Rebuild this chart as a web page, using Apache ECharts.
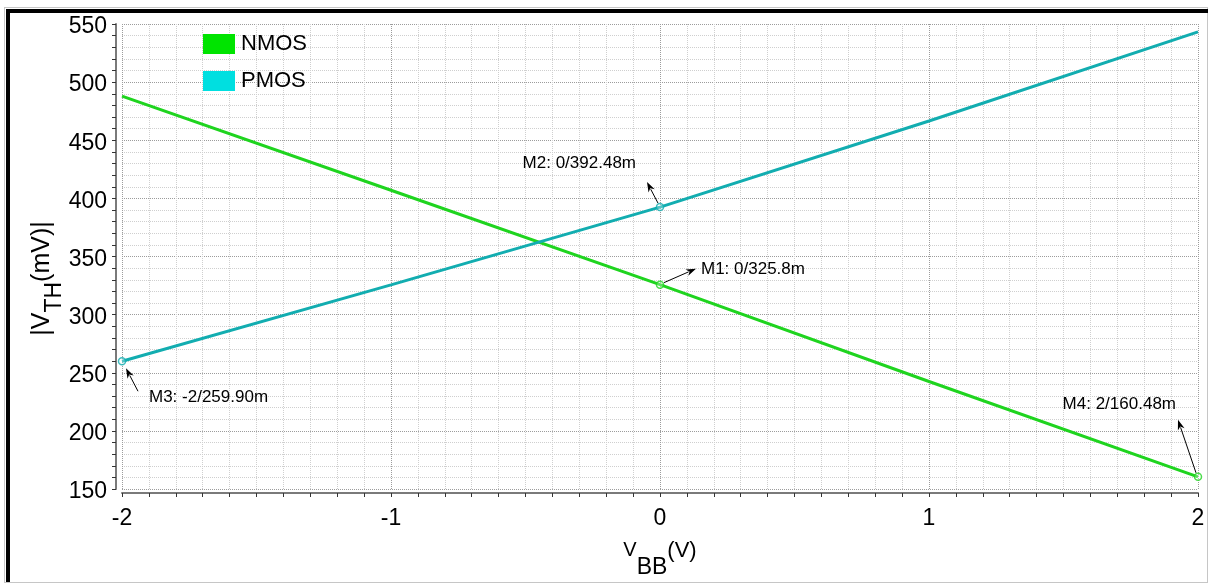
<!DOCTYPE html>
<html>
<head>
<meta charset="utf-8">
<script src="https://cdn.jsdelivr.net/npm/echarts@6/dist/echarts.min.js"></script>
<style>
  html, body { margin: 0; padding: 0; background: #fff; }
  #chart { position: absolute; left: 0; top: 0; width: 1212px; height: 584px; }
  .frame { position: absolute; left: 4px; top: 7px; width: 1202px; height: 574px; border: 1px solid #c6c6c6; pointer-events: none; }
  .bar-top { position: absolute; left: 6px; top: 9px; width: 1202px; height: 4px; background: #000; pointer-events: none; }
  .bar-left { position: absolute; left: 6px; top: 9px; width: 4px; height: 573px; background: #000; pointer-events: none; }
</style>
</head>
<body>
<div id="chart"></div>
<div class="frame"></div>
<div class="bar-top"></div>
<div class="bar-left"></div>
<script>
// Body bias sweep (V) and threshold voltage magnitude (mV)
const vbb  = [-2, -1, 0, 1, 2];
const nmos = [488.0, 407.0, 325.8, 242.5, 160.48];
const pmos = [259.90, 325.6, 392.48, 466.6, 543.2];

// Axis tick values
const xTicks = [-2, -1, 0, 1, 2];
const yTicks = [150, 200, 250, 300, 350, 400, 450, 500, 550];

// Cursor markers: name, series, index into vbb, decimals shown
const markerNames   = ['M1', 'M2', 'M3', 'M4'];
const markerSeries  = ['NMOS', 'PMOS', 'PMOS', 'NMOS'];
const markerIndex   = [2, 2, 0, 4];
const markerDigits  = [1, 2, 2, 2];

// Placement of each marker's arrow and caption, in pixels from the marker
const markerLayout = {
  M1: { tail: [4, -2],  head: [36, -16], text: [41, -15], align: 'left'  },
  M2: { tail: [-2, -4], head: [-13, -25], text: [-24, -44], align: 'right' },
  M3: { tail: [16, 30], head: [4, 7],    text: [27, 36],  align: 'left'  },
  M4: { tail: [-2, -4], head: [-20, -57], text: [-22, -73], align: 'right' }
};

const seriesData = { NMOS: nmos, PMOS: pmos };
const lineColor   = { NMOS: '#1fd41f', PMOS: '#12adb0' };
const legendColor = { NMOS: '#00e400', PMOS: '#00dfe0' };

const FONT = 'Liberation Sans, Arial, sans-serif';

const chart = echarts.init(document.getElementById('chart'), null, { renderer: 'canvas' });

const markerPoints = markerNames.map((n, k) => {
  const s = markerSeries[k];
  const i = markerIndex[k];
  return { name: n, series: s, x: vbb[i], y: seriesData[s][i], digits: markerDigits[k] };
});

function axisCommon() {
  return {
    axisLine: { show: true, onZero: false, lineStyle: { color: '#7a7a7a', width: 2 } },
    axisTick: { show: true, length: 4, lineStyle: { color: '#333', width: 1 } },
    splitLine: { show: true, lineStyle: { color: '#9c9c9c', type: 'dotted', width: 1 } },
    minorSplitLine: { show: true, lineStyle: { color: '#cfcfcf', type: 'dotted', width: 1 } }
  };
}

const option = {
  animation: false,
  backgroundColor: 'transparent',
  grid: { left: 122, right: 14, top: 24, bottom: 95, containLabel: false },
  legend: {
    left: 203, top: 33, padding: 0, orient: 'vertical', itemGap: 15,
    itemWidth: 32, itemHeight: 20, icon: 'rect',
    textStyle: { color: '#000', fontFamily: FONT, fontSize: 22, padding: [0, 0, 0, 1] },
    data: ['NMOS', 'PMOS'].map(n => ({ name: n, itemStyle: { color: legendColor[n] } }))
  },
  xAxis: Object.assign(axisCommon(), {
    type: 'value', min: xTicks[0], max: xTicks[xTicks.length - 1], interval: 1,
    offset: 4,
    minorTick: { show: true, splitNumber: 10, length: 4, lineStyle: { color: '#333', width: 1 } },
    axisLabel: { color: '#000', fontFamily: FONT, fontSize: 23, margin: 14 },
    name: '{a|V}{b|BB}{c|(V)}',
    nameLocation: 'middle', nameGap: 47,
    nameTextStyle: {
      fontFamily: FONT, color: '#000',
      rich: {
        a: { fontSize: 20, fontFamily: FONT, lineHeight: 39, verticalAlign: 'top' },
        b: { fontSize: 23, fontFamily: FONT, lineHeight: 39, verticalAlign: 'bottom' },
        c: { fontSize: 22, fontFamily: FONT, lineHeight: 39, verticalAlign: 'top' }
      }
    }
  }),
  yAxis: Object.assign(axisCommon(), {
    type: 'value', min: yTicks[0], max: yTicks[yTicks.length - 1], interval: 50,
    offset: 6,
    minorTick: { show: true, splitNumber: 5, length: 4, lineStyle: { color: '#333', width: 1 } },
    axisLabel: { color: '#000', fontFamily: FONT, fontSize: 23, margin: 9, verticalAlign: 'top', lineHeight: 6 },
    name: '{a||V}{b|TH}{a|(mV)|}',
    nameLocation: 'middle', nameGap: 50, nameMoveOverlap: false,
    nameTextStyle: {
      fontFamily: FONT, color: '#000', padding: [0, 44, 0, 0],
      rich: {
        a: { fontSize: 25, fontFamily: FONT, lineHeight: 36, verticalAlign: 'top' },
        b: { fontSize: 23, fontFamily: FONT, lineHeight: 36, verticalAlign: 'bottom' }
      }
    }
  }),
  series: [
    {
      name: 'NMOS', type: 'line', showSymbol: false, symbol: 'none',
      lineStyle: { color: lineColor.NMOS, width: 3 }, itemStyle: { color: lineColor.NMOS },
      data: vbb.map((x, i) => [x, nmos[i]]), z: 3
    },
    {
      name: 'PMOS', type: 'line', showSymbol: false, symbol: 'none',
      lineStyle: { color: lineColor.PMOS, width: 3 }, itemStyle: { color: lineColor.PMOS },
      data: vbb.map((x, i) => [x, pmos[i]]), z: 3
    },
    {
      name: 'markers', type: 'scatter', symbol: 'circle', symbolSize: 7, clip: false, z: 5,
      data: markerPoints.map(m => ({
        value: [m.x, m.y],
        itemStyle: { color: 'rgba(255,255,255,0.35)', borderColor: lineColor[m.series], borderWidth: 1.5 }
      }))
    }
  ]
};

chart.setOption(option);

// Cursor captions with arrows, positioned from each marker's data point
function arrowElements(p, lay) {
  const t = [p[0] + lay.tail[0], p[1] + lay.tail[1]];
  const h = [p[0] + lay.head[0], p[1] + lay.head[1]];
  const dx = h[0] - t[0], dy = h[1] - t[1];
  const len = Math.hypot(dx, dy);
  const ux = dx / len, uy = dy / len;
  const nx = -uy, ny = ux;
  const hl = 10, hw = 3.5;
  const bx = h[0] - ux * hl, by = h[1] - uy * hl;
  return [
    { type: 'line', shape: { x1: t[0], y1: t[1], x2: bx + ux * 2, y2: by + uy * 2 },
      style: { stroke: '#000', lineWidth: 1 }, z: 10 },
    { type: 'polygon',
      shape: { points: [h, [bx + nx * hw, by + ny * hw], [h[0] - ux * 7, h[1] - uy * 7], [bx - nx * hw, by - ny * hw]] },
      style: { fill: '#000' }, z: 10 }
  ];
}

const graphics = [];
markerPoints.forEach(m => {
  const p = chart.convertToPixel({ gridIndex: 0 }, [m.x, m.y]);
  const lay = markerLayout[m.name];
  graphics.push(...arrowElements(p, lay));
  graphics.push({
    type: 'text', z: 10,
    x: p[0] + lay.text[0], y: p[1] + lay.text[1],
    style: {
      text: m.name + ': ' + m.x + '/' + m.y.toFixed(m.digits) + 'm',
      fill: '#000', font: '17px ' + FONT,
      textAlign: lay.align, textVerticalAlign: 'middle'
    }
  });
});
chart.setOption({ graphic: { elements: graphics } });
</script>
</body>
</html>
